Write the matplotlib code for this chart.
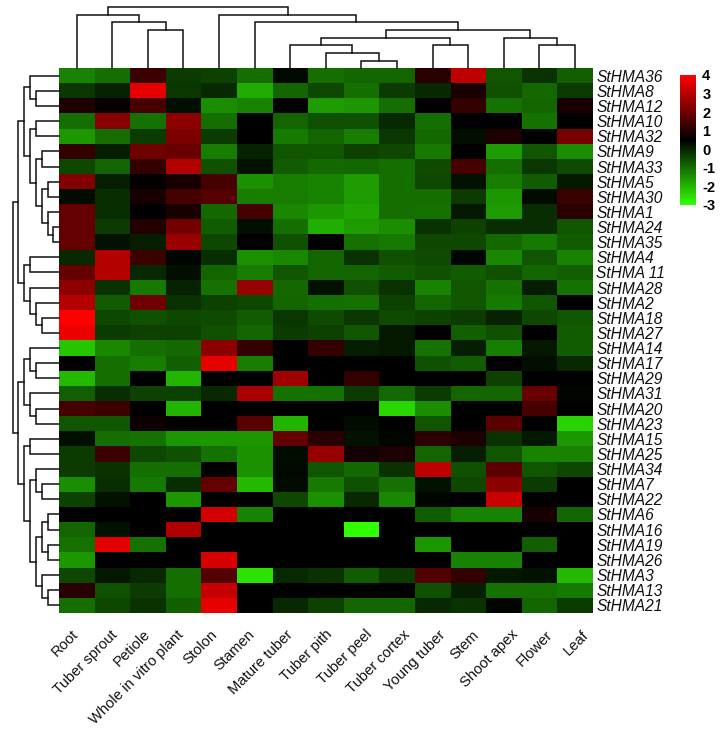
import numpy as np
import matplotlib
matplotlib.use("Agg")
import matplotlib.pyplot as plt
from matplotlib.colors import LinearSegmentedColormap
from matplotlib.transforms import ScaledTranslation

plt.rcParams['font.family'] = ['Liberation Sans', 'DejaVu Sans']

tissues = ["Root", "Tuber sprout", "Petiole", "Whole in vitro plant", "Stolon", "Stamen",
           "Mature tuber", "Tuber pith", "Tuber peel", "Tuber cortex", "Young tuber",
           "Stem", "Shoot apex", "Flower", "Leaf"]
genes = ["StHMA36", "StHMA8", "StHMA12", "StHMA10", "StHMA32", "StHMA9", "StHMA33", "StHMA5",
         "StHMA30", "StHMA1", "StHMA24", "StHMA35", "StHMA4", "StHMA 11", "StHMA28", "StHMA2",
         "StHMA18", "StHMA27", "StHMA14", "StHMA17", "StHMA29", "StHMA31", "StHMA20", "StHMA23",
         "StHMA15", "StHMA25", "StHMA34", "StHMA7", "StHMA22", "StHMA6", "StHMA16", "StHMA19",
         "StHMA26", "StHMA3", "StHMA13", "StHMA21"]

r36 = [-1.28,-1.01,1.32,-.32,-.39,-1.01,.39,-1.01,-.87,-.87,1.05,3.11,-.67,-.19,-.8]
r8  = [-.25,.02,3.66,-.25,-.05,-1.83,-.87,-.46,-1.01,-.32,-.05,.84,-.6,-.94,-.32]
r12 = [.91,.6,1.46,.29,-1.42,-1.28,.5,-1.63,-1.56,-1.01,.5,1.19,-1.08,-.87,.84]
r10 = [-1.01,2.35,-1.08,2.42,-1.01,.5,-.87,-.6,-.6,-.05,-1.01,.5,.5,-1.08,.5]
r32 = [-1.56,-1.01,-.32,2.22,-.32,.5,-1.15,-.87,-1.22,-.25,-.94,.29,.91,.5,2.15]
r9  = [1.19,.09,2.01,1.94,-1.22,.02,-.67,-.67,-.39,-.46,-1.15,.5,-1.63,-.67,-1.42]
r33 = [-.46,-.87,1.19,2.97,-.6,.23,-.74,-.94,-.87,-1.01,-.53,1.46,-1.01,-.25,-.53]
r5  = [2.28,.09,.53,.84,1.46,-1.49,-1.22,-1.28,-1.63,-1.01,-.46,.23,-1.22,-.74,.16]
r30 = [.36,-.12,.84,1.46,1.67,-1.22,-1.22,-1.28,-1.63,-1.01,-1.01,-.32,-1.56,.36,1.32]
r1  = [1.87,-.12,.5,.84,-.94,1.46,-1.35,-1.56,-1.76,-1.01,-1.08,.16,-1.63,-.12,1.05]
r24 = [1.87,-.32,.98,2.08,-.74,.29,-1.01,-1.9,-1.63,-1.42,-.19,-.39,-.12,-.12,-.67]
r35 = [1.87,.23,.09,2.63,-.46,.5,-.6,.5,-1.08,-1.15,-.46,-.46,-.94,-1.15,-.74]
r4  = [-.05,2.97,1.32,.43,-.12,-1.49,-1.35,-.87,-.19,-.6,-.53,.43,-1.35,-.67,-1.28]
r11 = [1.87,2.97,-.05,.29,-.87,-1.22,-.67,-.87,-.87,-.74,-.6,-.74,-.6,-.87,-.8]
r28 = [2.42,-.19,-1.15,.02,-1.08,2.56,-.94,.23,-.6,-.19,-1.28,-.67,-1.08,.09,-1.08]
r2  = [2.97,-.74,2.01,-.19,-.39,-.46,-.87,-1.01,-1.08,-.39,-.87,-.67,-1.15,-.67,.5]
r18 = [4,-.46,-.6,-.46,-.53,-.74,-.25,-.53,-.25,-.53,-.39,-.32,.02,-.46,-.67]
r27 = [3.73,-.32,-.39,-.39,-.6,-.87,-.32,-.39,-.67,.16,.5,-.8,-.6,.5,-.74]
r14 = [-2.18,-1.35,-1.01,-.94,2.42,1.19,.5,1.19,.09,.16,-1.08,.09,-1.22,.16,-.74]
r17 = [.5,-1.01,-1.22,-.8,3.66,-1.22,.5,.5,.5,.5,-.6,-.74,.5,.29,-.05]
r29 = [-2.04,-1.01,.5,-1.97,.5,.5,2.7,.5,1.19,.5,.5,.5,-.39,.5,.5]
r31 = [-.8,-.12,-.39,-.39,-.05,2.83,-1.08,-1.08,-.32,-.94,-.32,-.87,-.87,1.94,.43]
r20 = [1.46,1.32,.5,-1.97,.5,.5,.5,.5,.5,-2.45,-1.42,.5,.5,1.46,.5]
r23 = [-.67,-.67,.71,.5,.5,1.74,-1.97,.5,.34,.5,-.67,.5,1.74,.5,-2.38]
r15 = [.29,-1.01,-1.08,-1.56,-1.56,-1.56,1.87,1.05,.23,.43,1.12,.91,-.19,.16,-1.56]
r25 = [-.32,1.32,-.46,-.6,-1.08,-1.49,.34,2.56,.77,.91,-.87,.09,-.67,-1.28,-1.28]
r34 = [-.32,-.19,-1.01,-1.01,.5,-1.49,.39,-.67,-.94,-.19,3.11,-.6,1.74,-.67,-.46]
r7  = [-1.42,-.12,-1.15,-.12,1.87,-2.04,.34,-1.15,-.6,-1.08,.23,-.46,2.42,-.32,.5]
r22 = [-.39,.23,.5,-1.56,.5,.5,-.46,-1.49,-.05,-1.35,.43,.5,3.25,.5,.5]
r6  = [.5,.5,.5,.5,3.38,-1.28,.5,.5,.5,.5,-.74,-1.28,-1.28,.84,-.87]
r16 = [-.87,.23,.5,2.9,.5,.5,.5,.5,-3,.5,.5,.5,.5,.5,.5]
r19 = [-1.08,3.59,-1.08,.5,.5,.5,.5,.5,.5,.5,-1.56,.5,.5,-.8,.5]
r26 = [-1.56,.5,.5,.5,3.45,.5,.5,.5,.5,.5,.5,-1.28,-1.28,.5,.5]
r3  = [-.46,.16,-.05,-1.01,1.67,-2.59,-.05,-.19,-.74,-.32,1.6,1.19,.16,.23,-2.04]
r13 = [1.05,-.6,-.32,-1.01,3.18,.5,.5,.5,.5,.5,-.6,.09,-1.08,-1.08,-1.15]
r21 = [-1.01,-.46,-.19,-.8,3.66,.5,-.05,-.39,-.87,-.87,-.05,-.19,.43,-.87,-.32]

rows = [r36, r8, r12, r10, r32, r9, r33, r5, r30, r1, r24, r35, r4, r11, r28, r2, r18, r27,
        r14, r17, r29, r31, r20, r23, r15, r25, r34, r7, r22, r6, r16, r19, r26, r3, r13, r21]
cbar_ticks = [4, 3, 2, 1, 0, -1, -2, -3]

# dendrograms: (height, child, child); integers are leaf indices
col_tree = (61,
            (53, 0, (46, 1, (38, 2, 3))),
            (53, 4, (46, 5, (38,
                (30, (23, 6, (15, 7, (7, 8, 9))), (23, 10, 11)),
                (30, 12, (23, 13, 14))))))
g_top = (29, 0, (23, 1, 2))
g_mid = (29, (23, 3, 4),
         (23, (17, 5, 6), (17, (11, 7, 8), (11, 9, (6, 10, 11)))))
g_a = (35, g_top, g_mid)
g_b = (35, (29, 12, 13), (29, 14, (23, 15, (17, 16, 17))))
g_c = (35, (29, 18, (23, 19, 20)), (29, 21, (23, 22, 23)))
g_d = (35, (29, 24, 25),
       (29, (23, 26, (17, 27, 28)),
        (23, (17, (11, 29, 30), (11, 31, 32)), (17, 33, (11, 34, 35)))))
row_tree = (46, (41, g_a, g_b), (41, g_c, g_d))

W, H = 722, 729
def box(x0, y0, x1, y1):
    return [x0 / W, 1 - y1 / H, (x1 - x0) / W, (y1 - y0) / H]

L, R, T, B = 58.7, 592.7, 68.3, 612.7
fig = plt.figure(figsize=(W / 100, H / 100), dpi=100, facecolor='white')

cmap = LinearSegmentedColormap.from_list('gbr', ['#30ff00', '#000000', '#ff0000'], N=256)

ax = fig.add_axes(box(L, T, R, B))
im = ax.imshow(np.array(rows), cmap=cmap, vmin=-3, vmax=4, aspect='auto', interpolation='nearest')
for s in ax.spines.values():
    s.set_visible(False)
ax.yaxis.tick_right()
ax.set_yticks(range(len(genes)), genes, fontsize=11.2, style='italic', color='#111111')
ax.set_xticks(range(len(tissues)), tissues, fontsize=10.6, rotation=45, ha='right',
              rotation_mode='anchor', color='#111111')
ax.tick_params(axis='y', length=0, pad=2.5)
ax.tick_params(axis='x', length=0, pad=10.6)
# horizontal nudge of each rotated label, in pixels
label_nudge = [-5, -1.5, -4.5, -6.5, -8.5, -6.5, -4.5, -0.5, 3.5, 5.5, 5.5, 3.5, 7.5, 6.5, 6.5]
for lab, dx in zip(ax.get_xticklabels(), label_nudge):
    lab.set_transform(lab.get_transform() + ScaledTranslation(dx / 100, 0, fig.dpi_scale_trans))

def draw(node, ax, vertical):
    if isinstance(node, int):
        return node, 0
    h, a, b = node
    pa, ha_ = draw(a, ax, vertical)
    pb, hb_ = draw(b, ax, vertical)
    xs, ys = [pa, pa, pb, pb], [ha_, h, h, hb_]
    if vertical:
        ax.plot(xs, ys, color='#111111', lw=1.1, solid_joinstyle='miter', clip_on=False)
    else:
        ax.plot(ys, xs, color='#111111', lw=1.1, solid_joinstyle='miter', clip_on=False)
    return (pa + pb) / 2, h

ax_top = fig.add_axes(box(L, 0, R, T))
ax_top.set_xlim(-0.5, 14.5)
ax_top.set_ylim(0, T)
ax_top.axis('off')
draw(col_tree, ax_top, True)

ax_left = fig.add_axes(box(0, T, L, B))
ax_left.set_xlim(L, 0)
ax_left.set_ylim(35.5, -0.5)
ax_left.axis('off')
draw(row_tree, ax_left, False)

cax = fig.add_axes(box(680, 75, 696, 205))
cb = fig.colorbar(im, cax=cax, ticks=cbar_ticks)
cb.outline.set_visible(False)
cb.ax.tick_params(length=0, pad=4.5)
cb.ax.set_yticklabels([str(v) for v in cbar_ticks], fontsize=10.5, fontweight='bold')

fig.savefig('out.png', dpi=100)
